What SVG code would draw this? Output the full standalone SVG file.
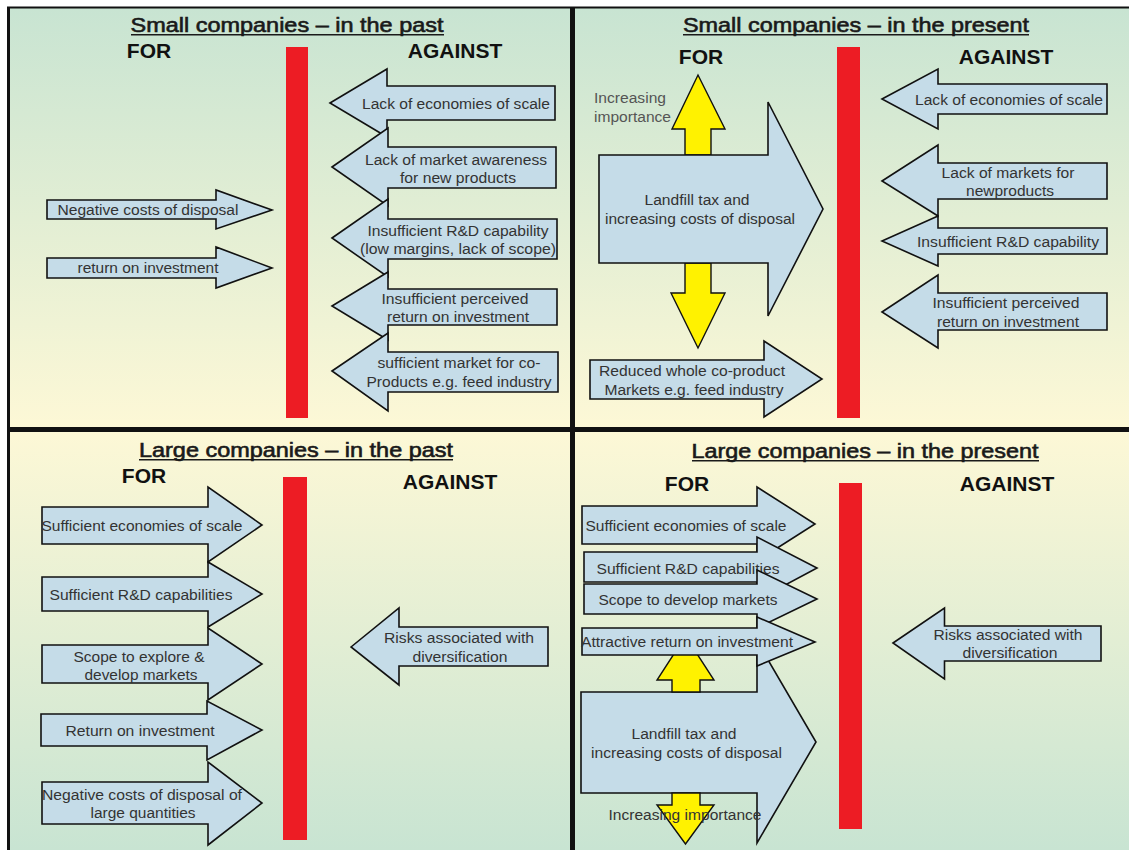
<svg xmlns="http://www.w3.org/2000/svg" width="1129" height="850" viewBox="0 0 1129 850">
<defs>
<linearGradient id="gDown" x1="0" y1="0" x2="0" y2="1">
<stop offset="0" stop-color="#c8e4d2"/><stop offset="1" stop-color="#fdf8d6"/>
</linearGradient>
<linearGradient id="gUp" x1="0" y1="0" x2="0" y2="1">
<stop offset="0" stop-color="#fdf8d6"/><stop offset="1" stop-color="#c8e4d2"/>
</linearGradient>
<style>
.arr{fill:#c5dce8;stroke:#111;stroke-width:1.6;stroke-linejoin:miter}
.yel{fill:#fff200;stroke:#111;stroke-width:1.4}
.bar{fill:#ed1c24}
.t{font-family:"Liberation Sans",Arial,sans-serif;font-size:15.5px;fill:#333;text-anchor:middle}
.tl{font-family:"Liberation Sans",Arial,sans-serif;font-size:15.5px;fill:#555}
.hd{font-family:"Liberation Sans",Arial,sans-serif;font-size:21px;font-weight:bold;fill:#111;text-anchor:middle}
.ti{font-family:"Liberation Sans",Arial,sans-serif;font-size:20px;fill:#1a1a1a;stroke:#1a1a1a;stroke-width:0.6;text-anchor:middle}
.ul{stroke:#1a1a1a;stroke-width:1.6}
.bd{stroke:#111;fill:none}
</style>
</defs>
<rect x="0" y="0" width="1129" height="850" fill="#ffffff"/>
<rect x="8" y="8" width="564" height="421" fill="url(#gDown)"/>
<rect x="572" y="8" width="557" height="421" fill="url(#gDown)"/>
<rect x="8" y="429" width="564" height="421" fill="url(#gUp)"/>
<rect x="572" y="429" width="557" height="421" fill="url(#gUp)"/>
<g id="borders">
<line class="bd" x1="7" y1="7.5" x2="1129" y2="7.5" stroke-width="2"/>
<line class="bd" x1="8.5" y1="7" x2="8.5" y2="850" stroke-width="3"/>
<line class="bd" x1="572.5" y1="7" x2="572.5" y2="850" stroke-width="5"/>
<line class="bd" x1="7" y1="429.5" x2="1129" y2="429.5" stroke-width="5"/>
</g>

<!-- Quadrant 1: Small companies - in the past -->
<g id="q1-title">
<text class="ti" x="287" y="32" textLength="313" lengthAdjust="spacingAndGlyphs">Small companies – in the past</text>
<line class="ul" x1="131" y1="34.8" x2="444" y2="34.8"/>
<text class="hd" x="149" y="58">FOR</text>
<text class="hd" x="455" y="58">AGAINST</text>
</g>
<rect id="q1-bar" class="bar" x="286" y="47" width="22" height="371"/>
<g id="q1-for-negative">
<polygon class="arr" points="47,200 216,200 216,190 272,210 216,229 216,219 47,219"/>
<text class="t" x="148" y="215" textLength="181" lengthAdjust="spacingAndGlyphs">Negative costs of disposal</text>
</g>
<g id="q1-for-return">
<polygon class="arr" points="47,258 216,258 216,247 272,268 216,288 216,278 47,278"/>
<text class="t" x="148" y="273" textLength="141" lengthAdjust="spacingAndGlyphs">return on investment</text>
</g>
<g id="q1-against-1">
<polygon class="arr" points="330,103 387,69 387,86 555,86 555,120 387,120 387,137"/>
<text class="t" x="456" y="109" textLength="188" lengthAdjust="spacingAndGlyphs">Lack of economies of scale</text>
</g>
<g id="q1-against-2">
<polygon class="arr" points="332,167 388,128 388,147 556,147 556,188 388,188 388,206"/>
<text class="t" x="456" y="165" textLength="182" lengthAdjust="spacingAndGlyphs">Lack of market awareness</text>
<text class="t" x="458" y="183" textLength="116" lengthAdjust="spacingAndGlyphs">for new products</text>
</g>
<g id="q1-against-3">
<polygon class="arr" points="332,238 388,199 388,219 557,219 557,259 388,259 388,277"/>
<text class="t" x="458" y="236" textLength="181" lengthAdjust="spacingAndGlyphs">Insufficient R&amp;D capability</text>
<text class="t" x="458" y="254" textLength="196" lengthAdjust="spacingAndGlyphs">(low margins, lack of scope)</text>
</g>
<g id="q1-against-4">
<polygon class="arr" points="332,306 388,272 388,289 557,289 557,325 388,325 388,340"/>
<text class="t" x="455" y="304" textLength="147" lengthAdjust="spacingAndGlyphs">Insufficient perceived</text>
<text class="t" x="458" y="322" textLength="142" lengthAdjust="spacingAndGlyphs">return on investment</text>
</g>
<g id="q1-against-5">
<polygon class="arr" points="332,371 388,333 388,352 558,352 558,392 388,392 388,411"/>
<text class="t" x="459" y="368" textLength="163" lengthAdjust="spacingAndGlyphs">sufficient market for co-</text>
<text class="t" x="459" y="387" textLength="185" lengthAdjust="spacingAndGlyphs">Products e.g. feed industry</text>
</g>

<!-- Quadrant 2: Small companies - in the present -->
<g id="q2-title">
<text class="ti" x="856" y="32" textLength="346" lengthAdjust="spacingAndGlyphs">Small companies – in the present</text>
<line class="ul" x1="683" y1="34.8" x2="1029" y2="34.8"/>
<text class="hd" x="701" y="64">FOR</text>
<text class="hd" x="1006" y="64">AGAINST</text>
</g>
<rect id="q2-bar" class="bar" x="837" y="47" width="23" height="371"/>
<g id="q2-importance-up">
<polygon class="yel" points="685,155 685,129 672,129 698,75 725,129 711,129 711,155"/>
<text class="tl" x="594" y="103" textLength="72" lengthAdjust="spacingAndGlyphs">Increasing</text>
<text class="tl" x="594" y="122" textLength="77" lengthAdjust="spacingAndGlyphs">importance</text>
</g>
<g id="q2-importance-down">
<polygon class="yel" points="685,263 711,263 711,293 725,293 698,348 671,293 685,293"/>
</g>
<g id="q2-landfill">
<polygon class="arr" points="599,155 768,155 768,102 823,209 768,316 768,263 599,263"/>
<text class="t" x="697" y="205" textLength="105" lengthAdjust="spacingAndGlyphs">Landfill tax and</text>
<text class="t" x="700" y="224" textLength="190" lengthAdjust="spacingAndGlyphs">increasing costs of disposal</text>
</g>
<g id="q2-reduced">
<polygon class="arr" points="590,360 764,360 764,341 822,379 764,417 764,399 590,399"/>
<text class="t" x="692" y="376" textLength="186" lengthAdjust="spacingAndGlyphs">Reduced whole co-product</text>
<text class="t" x="694" y="395" textLength="179" lengthAdjust="spacingAndGlyphs">Markets e.g. feed industry</text>
</g>
<g id="q2-against-1">
<polygon class="arr" points="882,99 938,69 938,84 1107,84 1107,114 938,114 938,129"/>
<text class="t" x="1009" y="105" textLength="188" lengthAdjust="spacingAndGlyphs">Lack of economies of scale</text>
</g>
<g id="q2-against-2">
<polygon class="arr" points="882,181 938,145 938,163 1107,163 1107,199 938,199 938,216"/>
<text class="t" x="1008" y="178" textLength="133" lengthAdjust="spacingAndGlyphs">Lack of markets for</text>
<text class="t" x="1010" y="196" textLength="88" lengthAdjust="spacingAndGlyphs">newproducts</text>
</g>
<g id="q2-against-3">
<polygon class="arr" points="882,241 938,216 938,228 1107,228 1107,254 938,254 938,266"/>
<text class="t" x="1008" y="247" textLength="182" lengthAdjust="spacingAndGlyphs">Insufficient R&amp;D capability</text>
</g>
<g id="q2-against-4">
<polygon class="arr" points="882,312 938,275 938,293 1107,293 1107,330 938,330 938,348"/>
<text class="t" x="1006" y="308" textLength="147" lengthAdjust="spacingAndGlyphs">Insufficient perceived</text>
<text class="t" x="1008" y="327" textLength="142" lengthAdjust="spacingAndGlyphs">return on investment</text>
</g>

<!-- Quadrant 3: Large companies - in the past -->
<g id="q3-title">
<text class="ti" x="296" y="457" textLength="314" lengthAdjust="spacingAndGlyphs">Large companies – in the past</text>
<line class="ul" x1="139" y1="459.8" x2="453" y2="459.8"/>
<text class="hd" x="144" y="483">FOR</text>
<text class="hd" x="450" y="489">AGAINST</text>
</g>
<rect id="q3-bar" class="bar" x="283" y="477" width="24" height="363"/>
<g id="q3-for-1">
<polygon class="arr" points="42,507 208,507 208,487 262,525 208,562 208,544 42,544"/>
<text class="t" x="142" y="531" textLength="201" lengthAdjust="spacingAndGlyphs">Sufficient economies of scale</text>
</g>
<g id="q3-for-2">
<polygon class="arr" points="42,577 208,577 208,562 262,594 208,627 208,611 42,611"/>
<text class="t" x="141" y="600" textLength="183" lengthAdjust="spacingAndGlyphs">Sufficient R&amp;D capabilities</text>
</g>
<g id="q3-for-3">
<polygon class="arr" points="42,645 208,645 208,628 262,664 208,700 208,683 42,683"/>
<text class="t" x="139" y="662" textLength="131" lengthAdjust="spacingAndGlyphs">Scope to explore &amp;</text>
<text class="t" x="141" y="680" textLength="113" lengthAdjust="spacingAndGlyphs">develop markets</text>
</g>
<g id="q3-for-4">
<polygon class="arr" points="41,714 207,714 207,701 262,730 207,760 207,746 41,746"/>
<text class="t" x="140" y="736" textLength="149" lengthAdjust="spacingAndGlyphs">Return on investment</text>
</g>
<g id="q3-for-5">
<polygon class="arr" points="42,782 208,782 208,762 262,803 208,845 208,824 42,824"/>
<text class="t" x="142" y="800" textLength="200" lengthAdjust="spacingAndGlyphs">Negative costs of disposal of</text>
<text class="t" x="143" y="818" textLength="105" lengthAdjust="spacingAndGlyphs">large quantities</text>
</g>
<g id="q3-against-risks">
<polygon class="arr" points="351,647 399,608 399,627 548,627 548,666 399,666 399,685"/>
<text class="t" x="459" y="643" textLength="150" lengthAdjust="spacingAndGlyphs">Risks associated with</text>
<text class="t" x="460" y="662" textLength="95" lengthAdjust="spacingAndGlyphs">diversification</text>
</g>

<!-- Quadrant 4: Large companies - in the present -->
<g id="q4-title">
<text class="ti" x="865" y="458" textLength="347" lengthAdjust="spacingAndGlyphs">Large companies – in the present</text>
<line class="ul" x1="692" y1="460.8" x2="1039" y2="460.8"/>
<text class="hd" x="687" y="491">FOR</text>
<text class="hd" x="1007" y="491">AGAINST</text>
</g>
<rect id="q4-bar" class="bar" x="839" y="483" width="23" height="346"/>
<g id="q4-landfill">
<polygon class="arr" points="581,692 757,692 757,641 816,742 757,843 757,793 581,793"/>
<text class="t" x="684" y="739" textLength="105" lengthAdjust="spacingAndGlyphs">Landfill tax and</text>
<text class="t" x="686.5" y="758" textLength="191" lengthAdjust="spacingAndGlyphs">increasing costs of disposal</text>
</g>
<g id="q4-importance-up">
<polygon class="yel" points="672,692 672,680 657,680 685.5,636 714,680 700,680 700,692"/>
</g>
<g id="q4-importance-down">
<polygon class="yel" points="672,793 700,793 700,805 714,805 685.5,844 657,805 672,805"/>
<text class="t" x="685" y="820" textLength="153" lengthAdjust="spacingAndGlyphs">Increasing importance</text>
</g>
<g id="q4-for-1">
<polygon class="arr" points="582,506 757,506 757,487 815,524 757,561 757,544 582,544"/>
<text class="t" x="686" y="531" textLength="201" lengthAdjust="spacingAndGlyphs">Sufficient economies of scale</text>
</g>
<g id="q4-for-2">
<polygon class="arr" points="584,552 757,552 757,537 817,568 757,600 757,582 584,582"/>
<text class="t" x="688" y="574" textLength="183" lengthAdjust="spacingAndGlyphs">Sufficient R&amp;D capabilities</text>
</g>
<g id="q4-for-3">
<polygon class="arr" points="584,584 757,584 757,570 817,599 757,628 757,614 584,614"/>
<text class="t" x="688" y="605" textLength="179" lengthAdjust="spacingAndGlyphs">Scope to develop markets</text>
</g>
<g id="q4-for-4">
<polygon class="arr" points="582,628 757,628 757,617 815,642 757,666 757,655 582,655"/>
<text class="t" x="687" y="647" textLength="212" lengthAdjust="spacingAndGlyphs">Attractive return on investment</text>
</g>
<g id="q4-against-risks">
<polygon class="arr" points="893,643 944.5,608 944.5,626 1101,626 1101,661 944.5,661 944.5,679"/>
<text class="t" x="1008" y="640" textLength="149" lengthAdjust="spacingAndGlyphs">Risks associated with</text>
<text class="t" x="1010" y="658" textLength="95" lengthAdjust="spacingAndGlyphs">diversification</text>
</g>
<g id="connectors"/>
</svg>
